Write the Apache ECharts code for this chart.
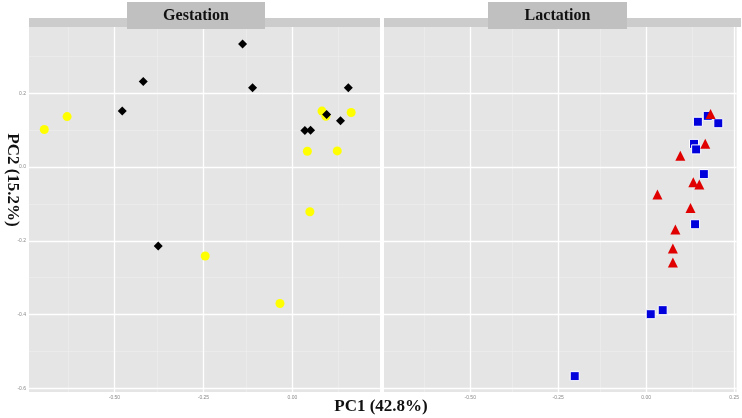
<!DOCTYPE html>
<html>
<head>
<meta charset="utf-8">
<script src="https://cdn.jsdelivr.net/npm/echarts@6/dist/echarts.min.js"></script>
<style>
  html, body { margin: 0; padding: 0; background: #fff; }
  #main { width: 742px; height: 418px; }
</style>
</head>
<body>
<div id="main"></div>
<script>
// facets
var panels = ['Gestation', 'Lactation'];

// gestation: black diamonds + yellow circles  [PC1, PC2]
var gestBlack = [
  [-0.140, 0.334], [-0.419, 0.232], [-0.112, 0.215], [0.157, 0.215],
  [-0.478, 0.152], [0.096, 0.143], [0.135, 0.126], [0.035, 0.099],
  [0.051, 0.100], [-0.377, -0.214]
];
var gestYellow = [
  [-0.697, 0.102], [-0.633, 0.137], [0.083, 0.152], [0.094, 0.138],
  [0.165, 0.148], [0.042, 0.043], [0.126, 0.044], [0.049, -0.121],
  [-0.245, -0.241], [-0.035, -0.370]
];

// lactation: red triangles + blue squares
var lactRed = [
  [0.183, 0.144], [0.168, 0.063], [0.097, 0.031], [0.134, -0.041],
  [0.151, -0.047], [0.032, -0.074], [0.126, -0.111], [0.083, -0.169],
  [0.076, -0.221], [0.076, -0.259]
];
var lactBlue = [
  [0.175, 0.139], [0.147, 0.123], [0.205, 0.119], [0.136, 0.063],
  [0.142, 0.048], [0.164, -0.019], [0.139, -0.155], [0.047, -0.388],
  [0.013, -0.399], [-0.203, -0.567]
];

// axis breaks
var xMajor = [-0.5, -0.25, 0, 0.25];
var xMinor = [-0.625, -0.375, -0.125, 0.125];
var yMajor = [-0.6, -0.4, -0.2, 0, 0.2];
var yMinor = [-0.5, -0.3, -0.1, 0.1, 0.3];

var grids = [
  { left: 29, top: 27, width: 351, height: 365 },
  { left: 384, top: 27, width: 357, height: 365 }
];
var xRange = [[-0.74, 0.246], [-0.745, 0.257]];
var yRange = [-0.61, 0.38];

var tickLabel = { fontSize: 5, color: '#888', fontFamily: 'Liberation Sans' };

function gridLines(i) {
  var major = { color: '#ffffff', width: 1.3, type: 'solid' };
  var minor = { color: '#eeeeee', width: 0.6, type: 'solid' };
  var d = [];
  xMinor.forEach(function (v) { d.push({ xAxis: v, lineStyle: minor }); });
  yMinor.forEach(function (v) { d.push({ yAxis: v, lineStyle: minor }); });
  xMajor.forEach(function (v) { d.push({ xAxis: v, lineStyle: major }); });
  yMajor.forEach(function (v) { d.push({ yAxis: v, lineStyle: major }); });
  return {
    type: 'scatter',
    xAxisIndex: i,
    yAxisIndex: i,
    data: [],
    silent: true,
    z: 1,
    markLine: {
      silent: true,
      symbol: 'none',
      label: { show: false },
      animation: false,
      data: d
    }
  };
}

var xAxes = [], yAxes = [];
for (var i = 0; i < 2; i++) {
  xAxes.push({
    type: 'value', gridIndex: i, min: xRange[i][0], max: xRange[i][1],
    axisLine: { show: false },
    splitLine: { show: false },
    axisTick: { show: true, length: 2, customValues: xMajor, lineStyle: { color: '#999', width: 0.6 } },
    axisLabel: Object.assign({ margin: 3, customValues: xMajor, formatter: function (v) { return v.toFixed(2); } }, tickLabel)
  });
  yAxes.push({
    type: 'value', gridIndex: i, min: yRange[0], max: yRange[1],
    axisLine: { show: false },
    splitLine: { show: false },
    axisTick: { show: i === 0, length: 2, customValues: yMajor, lineStyle: { color: '#999', width: 0.6 } },
    axisLabel: Object.assign({ show: i === 0, margin: 3, customValues: yMajor, formatter: function (v) { return v.toFixed(1); } }, tickLabel)
  });
}

var graphics = [];
var boxes = [[127, 265], [488, 627]];
for (var k = 0; k < 2; k++) {
  graphics.push({
    type: 'rect', z: 10,
    shape: { x: grids[k].left, y: 18, width: grids[k].width, height: 9 },
    style: { fill: '#cccccc' }
  });
  graphics.push({
    type: 'rect', z: 11,
    shape: { x: boxes[k][0], y: 2, width: boxes[k][1] - boxes[k][0], height: 27 },
    style: { fill: '#c0c0c0' }
  });
  graphics.push({
    type: 'text', z: 12,
    x: (boxes[k][0] + boxes[k][1]) / 2, y: 16,
    style: {
      text: panels[k], fill: '#111', font: 'bold 16px "Liberation Serif"',
      align: 'center', verticalAlign: 'middle'
    }
  });
}
graphics.push({
  type: 'text', z: 12, x: 381, y: 407,
  style: { text: 'PC1 (42.8%)', fill: '#111', font: 'bold 17px "Liberation Serif"', align: 'center', verticalAlign: 'middle' }
});
graphics.push({
  type: 'text', z: 12, x: 12, y: 180, rotation: -Math.PI / 2,
  style: { text: 'PC2 (15.2%)', fill: '#111', font: 'bold 17px "Liberation Serif"', align: 'center', verticalAlign: 'middle' }
});

var option = {
  backgroundColor: '#ffffff',
  animation: false,
  grid: grids.map(function (g) {
    return Object.assign({ show: true, backgroundColor: '#e5e5e5', borderWidth: 0 }, g);
  }),
  xAxis: xAxes,
  yAxis: yAxes,
  graphic: graphics,
  series: [
    gridLines(0),
    gridLines(1),
    {
      name: 'gest2', type: 'scatter', xAxisIndex: 0, yAxisIndex: 0, z: 5,
      symbol: 'circle', symbolSize: 9, data: gestYellow,
      itemStyle: { color: '#ffff00', opacity: 1 }
    },
    {
      name: 'gest1', type: 'scatter', xAxisIndex: 0, yAxisIndex: 0, z: 6,
      symbol: 'diamond', symbolSize: 9, data: gestBlack,
      itemStyle: { color: '#000000', opacity: 1 }
    },
    {
      name: 'lact2', type: 'scatter', xAxisIndex: 1, yAxisIndex: 1, z: 5,
      symbol: 'rect', symbolSize: 9, data: lactBlue,
      itemStyle: { color: '#0000dd', borderColor: '#ffffff', borderWidth: 1, opacity: 1 }
    },
    {
      name: 'lact1', type: 'scatter', xAxisIndex: 1, yAxisIndex: 1, z: 6,
      symbol: 'triangle', symbolSize: 10, data: lactRed,
      itemStyle: { color: '#e00000', opacity: 1 }
    }
  ]
};

var myChart = echarts.init(document.getElementById('main'), null, { renderer: 'canvas' });
myChart.setOption(option);
</script>
</body>
</html>
